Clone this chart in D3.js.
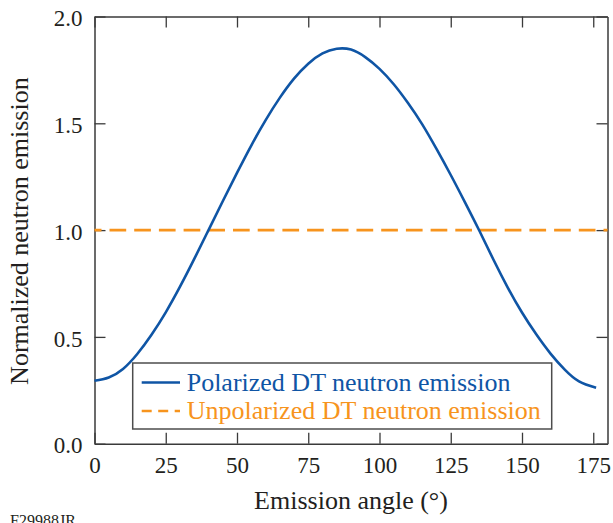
<!DOCTYPE html>
<html>
<head>
<meta charset="utf-8">
<script src="https://cdn.jsdelivr.net/npm/d3@7"></script>
<style>
  body { margin: 0; background: #fff; }
  svg { display: block; }
  text { font-family: "Liberation Serif", "Times New Roman", serif; fill: #231f20; }
</style>
</head>
<body>
<svg width="613" height="523"></svg>
<script>
// angles in degrees
var angles = [0, 5, 10, 15, 20, 25, 30, 35, 40, 45, 50, 55, 60, 65, 70, 75, 80, 85, 90,
              95, 100, 105, 110, 115, 120, 125, 130, 135, 140, 145, 150, 155, 160, 165, 170, 176];
var polarized = [0.295, 0.31, 0.35, 0.42, 0.51, 0.615, 0.735, 0.865, 1.0, 1.135, 1.268, 1.396, 1.514, 1.619, 1.709, 1.779, 1.827, 1.849, 1.845,
                 1.81, 1.755, 1.683, 1.595, 1.495, 1.38, 1.258, 1.13, 0.998, 0.861, 0.731, 0.614, 0.512, 0.422, 0.347, 0.292, 0.262];
var unpolAngles = [0, 180];
var unpolarized = [1.0, 1.0];
var xTicks = [0, 25, 50, 75, 100, 125, 150, 175];
var yTicks = [0.0, 0.5, 1.0, 1.5, 2.0];
var seriesNames = ["Polarized DT neutron emission", "Unpolarized DT neutron emission"];

var blue = "#0f55a5";
var orange = "#f7941d";

var svg = d3.select("svg");
var plotL = 94.5, plotR = 607.5, plotT = 16.5, plotB = 443.7;

var x = d3.scaleLinear().domain([0, 180]).range([plotL, plotR]);
var y = d3.scaleLinear().domain([0, 2]).range([plotB, plotT]);

// axes (ticks point inward)
var gx = svg.append("g").attr("transform", "translate(0," + plotB + ")")
    .call(d3.axisBottom(x).tickValues(xTicks).tickSizeInner(-11).tickSizeOuter(0).tickPadding(13));
var gxTop = svg.append("g").attr("transform", "translate(0," + plotT + ")")
    .call(d3.axisTop(x).tickValues(xTicks).tickSizeInner(-11).tickSizeOuter(0).tickFormat(""));
var gy = svg.append("g").attr("transform", "translate(" + plotL + ",0)")
    .call(d3.axisLeft(y).tickValues(yTicks).tickSizeInner(-11).tickSizeOuter(0).tickPadding(12)
      .tickFormat(d3.format(".1f")));
var gyRight = svg.append("g").attr("transform", "translate(" + plotR + ",0)")
    .call(d3.axisRight(y).tickValues(yTicks).tickSizeInner(-11).tickSizeOuter(0).tickFormat(""));

svg.selectAll(".domain").attr("stroke", "#3a3a3a").attr("stroke-width", 1.5);
svg.selectAll(".tick line").attr("stroke", "#3a3a3a").attr("stroke-width", 1.3);
svg.selectAll(".tick text").attr("font-size", "23px")
    .attr("font-family", "'Liberation Serif', 'Times New Roman', serif").attr("fill", "#231f20");
gy.selectAll(".tick text").attr("dy", "0.4em");

// series
var line = d3.line()
    .x(function (d) { return x(d[0]); })
    .y(function (d) { return y(d[1]); })
    .curve(d3.curveNatural);

svg.append("path")
    .datum(unpolAngles.map(function (a, i) { return [a, unpolarized[i]]; }))
    .attr("d", line)
    .attr("fill", "none")
    .attr("stroke", orange)
    .attr("stroke-width", 2.6)
    .attr("stroke-dasharray", "16.7,8")
    .attr("stroke-dashoffset", 9.7);

svg.append("path")
    .datum(angles.map(function (a, i) { return [a, polarized[i]]; }))
    .attr("d", line)
    .attr("fill", "none")
    .attr("stroke", blue)
    .attr("stroke-width", 2.6);

// legend
var lg = svg.append("g");
lg.append("rect")
    .attr("x", 132.7).attr("y", 363)
    .attr("width", 419).attr("height", 66)
    .attr("fill", "#fff")
    .attr("stroke", "#4d4d4d")
    .attr("stroke-width", 1.5);
lg.append("line")
    .attr("x1", 141.7).attr("x2", 180).attr("y1", 382.5).attr("y2", 382.5)
    .attr("stroke", blue).attr("stroke-width", 2.6);
lg.append("line")
    .attr("x1", 141.7).attr("x2", 180).attr("y1", 411).attr("y2", 411)
    .attr("stroke", orange).attr("stroke-width", 2.6)
    .attr("stroke-dasharray", "10,6.5");
lg.append("text").attr("x", 186.7).attr("y", 391).attr("font-size", "26px")
    .style("fill", blue).text(seriesNames[0]);
lg.append("text").attr("x", 186.7).attr("y", 419).attr("font-size", "26px")
    .style("fill", orange).text(seriesNames[1]);

// axis titles
svg.append("text")
    .attr("x", (plotL + plotR) / 2).attr("y", 509)
    .attr("text-anchor", "middle").attr("font-size", "26px")
    .text("Emission angle (\u00b0)");
svg.append("text")
    .attr("transform", "translate(28," + ((plotT + plotB) / 2 + 1) + ") rotate(-90)")
    .attr("text-anchor", "middle").attr("font-size", "26px")
    .text("Normalized neutron emission");

// figure id
svg.append("text")
    .attr("x", 10).attr("y", 526)
    .attr("font-size", "16px")
    .text("F29988JR");
</script>
</body>
</html>
